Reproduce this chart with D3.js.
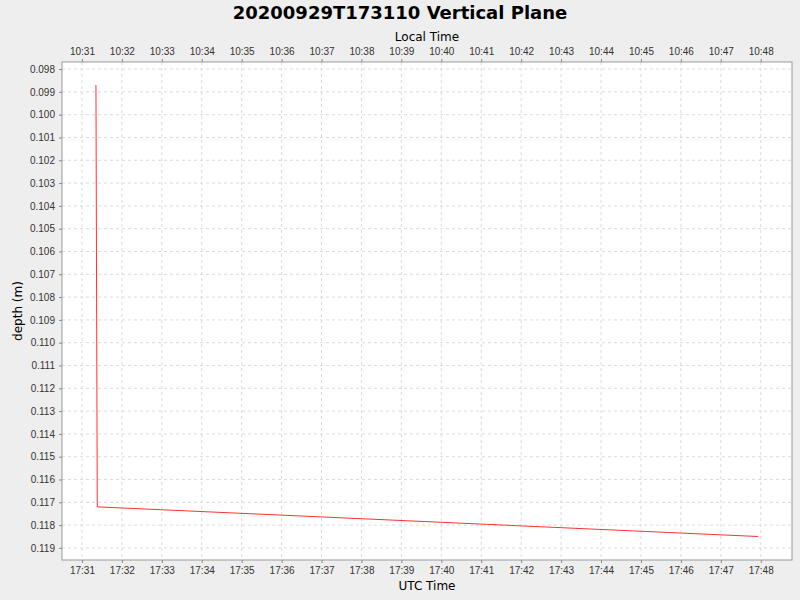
<!DOCTYPE html><html><head><meta charset="utf-8">
<script src="https://cdn.jsdelivr.net/npm/d3@7"></script>
<style>body{margin:0;background:#eeeeee}svg{font-family:"DejaVu Sans",sans-serif}</style></head><body>
<svg id="c" width="800" height="600"></svg>
<script>
const times = ["2020-09-29T17:31:21","2020-09-29T17:31:23","2020-09-29T17:47:56"];
const depths = [0.0987, 0.1172, 0.1185];
const yTicks = [0.098,0.099,0.100,0.101,0.102,0.103,0.104,0.105,0.106,0.107,0.108,0.109,0.110,0.111,0.112,0.113,0.114,0.115,0.116,0.117,0.118,0.119];
const localOffsetHours = -7;

const svg=d3.select("#c");
const L=62,R=792,T=62,B=560;
const p=d3.timeParse("%Y-%m-%dT%H:%M:%S");
const x=d3.scaleTime().domain([p("2020-09-29T17:30:30"),p("2020-09-29T17:48:47")]).range([L,R]);
const y=d3.scaleLinear().domain([0.09769,0.11953]).range([T,B]);
const xt=d3.timeMinute.range(p("2020-09-29T17:31:00"),p("2020-09-29T17:48:30"));
svg.append("rect").attr("x",L).attr("y",T).attr("width",R-L).attr("height",B-T).attr("fill","#fff");
const g=svg.append("g");
xt.forEach(t=>g.append("line").attr("x1",x(t)).attr("x2",x(t)).attr("y1",T).attr("y2",B).attr("stroke","#dcdcdc").attr("stroke-dasharray","3,3"));
yTicks.forEach(v=>g.append("line").attr("y1",y(v)).attr("y2",y(v)).attr("x1",L).attr("x2",R).attr("stroke","#dcdcdc").attr("stroke-dasharray","3,3"));
svg.append("rect").attr("x",L).attr("y",T).attr("width",R-L).attr("height",B-T).attr("fill","none").attr("stroke","#999");
const fmt=d3.timeFormat("%H:%M");
const xb=svg.append("g").attr("transform",`translate(0,${B})`).call(d3.axisBottom(x).tickValues(xt).tickFormat(fmt).tickSize(3).tickPadding(4));
const xtp=svg.append("g").attr("transform",`translate(0,${T})`).call(d3.axisTop(x).tickValues(xt).tickFormat(t=>fmt(d3.timeHour.offset(t,localOffsetHours))).tickSize(3).tickPadding(4));
const ya=svg.append("g").attr("transform",`translate(${L},0)`).call(d3.axisLeft(y).tickValues(yTicks).tickFormat(d3.format(".3f")).tickSize(3).tickPadding(4));
[xb,xtp,ya].forEach(a=>{a.select(".domain").remove();a.selectAll("text").attr("font-size",10).attr("fill","#333");a.selectAll("line").attr("stroke","#888");});
svg.append("path").datum(times.map((t,i)=>[p(t),depths[i]])).attr("fill","none").attr("stroke","#ff3333").attr("stroke-width",1)
 .attr("d",d3.line().x(d=>x(d[0])).y(d=>y(d[1])));
svg.append("text").attr("x",400).attr("y",19).attr("text-anchor","middle").attr("font-size",18).attr("font-weight","bold").text("20200929T173110 Vertical Plane");
svg.append("text").attr("x",427).attr("y",41).attr("text-anchor","middle").attr("font-size",12).text("Local Time");
svg.append("text").attr("x",427).attr("y",590).attr("text-anchor","middle").attr("font-size",12).text("UTC Time");
svg.append("text").attr("transform","translate(22,311) rotate(-90)").attr("text-anchor","middle").attr("font-size",12).text("depth (m)");
</script></body></html>
